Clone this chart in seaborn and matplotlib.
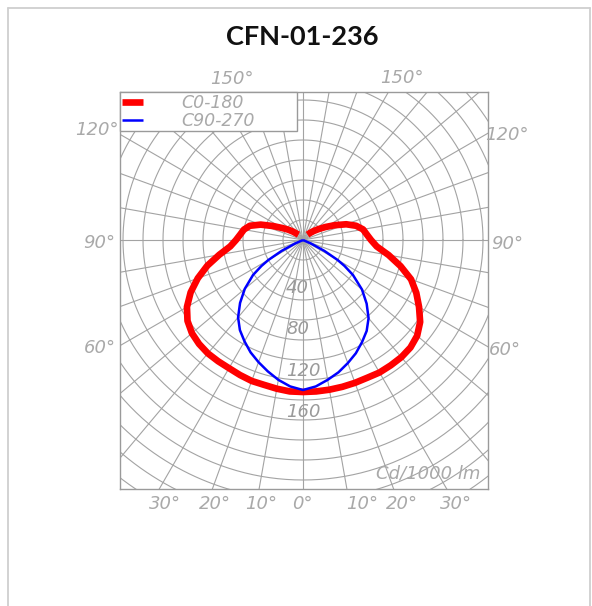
import numpy as np
import pandas as pd
import matplotlib
matplotlib.use("Agg")
import matplotlib.pyplot as plt
from matplotlib.lines import Line2D
import seaborn as sns

# ---------------- data (cd/1000 lm) ----------------
red_angles = [0, 5, 10, 15, 20, 25, 30, 35, 40, 45, 50, 55, 60, 65, 70, 75, 80, 85, 90, 95,
              100, 105, 110, 115, 120, 125, 130, 135, 140]
red_left = [152, 152, 151, 150, 150, 149, 148, 148, 148, 147, 145, 141, 134, 124, 112, 99, 85, 73,
            67, 63, 60, 55, 45, 33, 24, 18, 13, 9, 7]
red_right = [152, 152, 152, 152, 152, 152, 153, 153, 153, 152, 149, 143, 134, 125, 115, 101, 87, 74,
             68, 64, 61, 55, 46, 35, 26, 19, 14, 10, 7]

blue_angles = [0, 5, 10, 15, 20, 25, 30, 35, 40, 45, 50, 55, 58, 60, 63, 66, 68]
blue_left = [150, 147, 142, 136, 130, 124, 117, 110, 101, 89, 76, 61, 49, 40, 24, 9, 0]
blue_right = [150, 147, 142, 137, 131, 125, 118, 111, 102, 90, 77, 61, 49, 40, 24, 9, 0]

series_names = ["C0-180", "C90-270"]
ring_labels = [40, 80, 120, 160]
side_labels = ["150°", "120°", "90°", "60°"]
bottom_labels = ["30°", "20°", "10°", "0°", "10°", "20°", "30°"]
title = "CFN-01-236"
unit_label = "Cd/1000 lm"


def curve(angles, left, right, name):
    a = np.array(angles, float)
    th = np.concatenate([-a[::-1], a[1:]])
    r = np.concatenate([np.array(left, float)[::-1], np.array(right, float)[1:]])
    rad = np.deg2rad(th)
    return pd.DataFrame({"x": r * np.sin(rad), "y": -r * np.cos(rad),
                         "order": np.arange(len(r)), "series": name})


df_red = curve(red_angles, red_left, red_right, series_names[0])
df_blue = curve(blue_angles, blue_left, blue_right, series_names[1])

# ---------------- figure ----------------
sns.set_style("white")
plt.rcParams["font.family"] = ["DejaVu Sans"]

W, H = 592, 606
fig = plt.figure(figsize=(W / 100, H / 100), dpi=100)

# outer light frame
fc = "#cfcfcf"
fig.add_artist(Line2D([8 / W, 8 / W], [0, 1 - 8 / H], color=fc, lw=1.3))
fig.add_artist(Line2D([8 / W, 590 / W], [1 - 8 / H, 1 - 8 / H], color=fc, lw=1.3))
fig.add_artist(Line2D([590 / W, 590 / W], [0, 1 - 8 / H], color=fc, lw=1.3))

fig.text(302 / W, 1 - 37 / H, title, ha="center", va="center",
         fontsize=19.5, fontweight="bold", family=["Lato", "DejaVu Sans"], color="#111111")

# polar diagram box: x 120..488, y 92..489 (px), center at (303, 240)
ax = fig.add_axes([120 / W, (H - 489) / H, 368 / W, 397 / H])
ax.set_xlim(-183, 185)
ax.set_ylim(-249, 148)
ax.set_xticks([])
ax.set_yticks([])
for s in ax.spines.values():
    s.set_color("#9a9a9a")
    s.set_linewidth(1.0)

gc = "#a3a3a3"
# rings
t = np.linspace(0, 2 * np.pi, 721)
for rr in range(20, 320, 20):
    ax.plot(rr * np.cos(t), rr * np.sin(t), color=gc, lw=0.8, zorder=1)
# spokes
for a in range(0, 360, 10):
    ra = np.deg2rad(a)
    ax.plot([0, 340 * np.sin(ra)], [0, -340 * np.cos(ra)], color=gc, lw=0.8, zorder=1)

sns.lineplot(data=df_red, x="x", y="y", sort=False, estimator=None, color="#ff0000",
             lw=4.8, ax=ax, label=series_names[0], zorder=3)
sns.lineplot(data=df_blue, x="x", y="y", sort=False, estimator=None, color="#0000ff",
             lw=1.8, ax=ax, label=series_names[1], zorder=4)
ax.set_xlabel("")
ax.set_ylabel("")
for ln in ax.lines[-2:]:
    ln.set_solid_capstyle("butt")
    ln.set_solid_joinstyle("round")

tc = "#a9a9a9"
tfont = dict(family=["DejaVu Sans"], style="italic", color=tc, fontsize=13)

# legend
leg = ax.legend(loc="upper left", bbox_to_anchor=(0, 1, 177 / 368, 0.0),
                mode="expand", frameon=True, fancybox=False, framealpha=1,
                edgecolor="#9a9a9a", borderaxespad=0, borderpad=0.1,
                handlelength=1.25, handletextpad=2.2, labelspacing=0.0,
                prop=dict(family="DejaVu Sans", style="italic", size=12.5))
leg.get_frame().set_linewidth(1.0)
for txt in leg.get_texts():
    txt.set_color(tc)
leg.set_zorder(10)

# ring labels
for v in ring_labels:
    ax.text(-17, -(v + 7 + v * 0.03), str(v), ha="left", va="center", zorder=5,
            **{**tfont, "color": "#9a9a9a"})

# side angle labels (px positions converted to center-origin coords)
side_pos = {"150°": [(232, 79), (402, 78)], "120°": [(97, 130), (507, 135)],
            "90°": [(99, 243), (507, 244)], "60°": [(100, 348), (505, 350)]}
for lab in side_labels:
    for (px, py) in side_pos[lab]:
        ax.text(px - 303, 240 - py, lab, ha="center", va="center", clip_on=False, **tfont)

bottom_x = [165, 215, 261, 302, 362, 402, 456]
for lab, px in zip(bottom_labels, bottom_x):
    ax.text(px - 303, 240 - 504, lab, ha="center", va="center", clip_on=False, **tfont)

ax.text(480 - 303, 240 - 474, unit_label, ha="right", va="center", zorder=5, **tfont)

fig.savefig("out.png", dpi=100)
